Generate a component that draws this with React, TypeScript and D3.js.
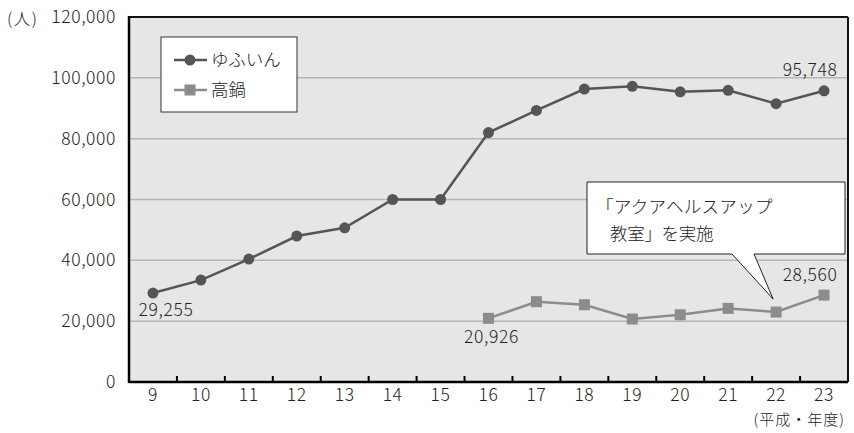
import React, { useEffect, useRef } from "react";
import * as d3 from "d3";

const years = ["9", "10", "11", "12", "13", "14", "15", "16", "17", "18", "19", "20", "21", "22", "23"];
const yufuin = [29255, 33500, 40400, 48000, 50700, 60000, 60000, 82000, 89300, 96300, 97200, 95400, 95900, 91500, 95748];
const takanabeYears = ["16", "17", "18", "19", "20", "21", "22", "23"];
const takanabe = [20926, 26400, 25400, 20700, 22100, 24200, 23000, 28560];
const yTicks = [0, 20000, 40000, 60000, 80000, 100000, 120000];

const FONT = "'Noto Sans CJK JP', 'Noto Sans', sans-serif";

export default function App() {
  const ref = useRef<SVGSVGElement>(null);

  useEffect(() => {
    const svg = d3.select(ref.current);
    svg.selectAll("*").remove();

    const left = 129, right = 848, top = 17, bottom = 382;
    const x = d3.scaleBand().domain(years).range([left, right]);
    const y = d3.scaleLinear().domain([0, 120000]).range([bottom, top]);
    const cx = (d: string) => (x(d) as number) + x.bandwidth() / 2;
    const fmt = d3.format(",");

    const txt = (t: string, tx: number, ty: number, size = 17.5, anchor = "start") =>
      svg.append("text").attr("x", tx).attr("y", ty).attr("text-anchor", anchor)
        .attr("font-family", FONT).attr("font-weight", 300).attr("font-size", size)
        .attr("letter-spacing", 0.6).attr("fill", "#222").text(t);

    // plot background
    svg.append("rect").attr("x", left).attr("y", top)
      .attr("width", right - left).attr("height", bottom - top).attr("fill", "#e6e6e6");

    // grid
    svg.selectAll(".grid").data(yTicks.slice(1, -1)).join("line")
      .attr("x1", left).attr("x2", right)
      .attr("y1", d => y(d)).attr("y2", d => y(d))
      .attr("stroke", "#b5b5b5").attr("stroke-width", 1.5);

    // frame
    svg.append("line").attr("x1", left).attr("x2", right).attr("y1", top).attr("y2", top)
      .attr("stroke", "#111").attr("stroke-width", 2);
    svg.append("line").attr("x1", right).attr("x2", right).attr("y1", top).attr("y2", bottom)
      .attr("stroke", "#111").attr("stroke-width", 2);
    svg.append("line").attr("x1", left).attr("x2", left).attr("y1", top - 1).attr("y2", bottom + 1)
      .attr("stroke", "#000").attr("stroke-width", 2.5);
    svg.append("line").attr("x1", left).attr("x2", right).attr("y1", bottom).attr("y2", bottom)
      .attr("stroke", "#000").attr("stroke-width", 2.5);

    // x ticks at band boundaries (pointing inward)
    svg.selectAll(".xtick").data(years.slice(1)).join("line")
      .attr("x1", d => x(d) as number).attr("x2", d => x(d) as number)
      .attr("y1", bottom).attr("y2", bottom - 6)
      .attr("stroke", "#000").attr("stroke-width", 2);

    // axis labels
    years.forEach(d => txt(d, cx(d), 401, 17.5, "middle"));
    yTicks.forEach(d => txt(fmt(d), 116, y(d) + 6, 17.5, "end"));

    txt("(人)", 7, 25, 16.5).attr("letter-spacing", 1.5);
    txt("(平成・年度)", 845, 425, 15, "end").attr("letter-spacing", 1);

    // yufuin line
    const line1 = d3.line<number>().x((_, i) => cx(years[i])).y(d => y(d));
    svg.append("path").attr("d", line1(yufuin)).attr("fill", "none")
      .attr("stroke", "#555").attr("stroke-width", 2.5);
    svg.selectAll(".c1").data(yufuin).join("circle")
      .attr("cx", (_, i) => cx(years[i])).attr("cy", d => y(d)).attr("r", 5.5).attr("fill", "#555");

    // takanabe line
    const line2 = d3.line<number>().x((_, i) => cx(takanabeYears[i])).y(d => y(d));
    svg.append("path").attr("d", line2(takanabe)).attr("fill", "none")
      .attr("stroke", "#8c8c8c").attr("stroke-width", 2.5);
    svg.selectAll(".s2").data(takanabe).join("rect")
      .attr("x", (_, i) => cx(takanabeYears[i]) - 5.5).attr("y", d => y(d) - 5.5)
      .attr("width", 11).attr("height", 11).attr("fill", "#8c8c8c");

    // data labels
    txt(fmt(yufuin[0]), cx("9") + 13, y(yufuin[0]) + 23, 17.5, "middle");
    txt(fmt(yufuin[yufuin.length - 1]), cx("23") - 14, y(yufuin[yufuin.length - 1]) - 15, 17.5, "middle");
    txt(fmt(takanabe[0]), cx("16") + 3, y(takanabe[0]) + 25, 17.5, "middle");
    txt(fmt(takanabe[takanabe.length - 1]), cx("23") - 14, y(takanabe[takanabe.length - 1]) - 14, 17.5, "middle");

    // legend
    svg.append("rect").attr("x", 161).attr("y", 37).attr("width", 136).attr("height", 75)
      .attr("fill", "#fff").attr("stroke", "#333").attr("stroke-width", 1);
    const lg = [
      { name: "ゆふいん", color: "#555", shape: "circle" },
      { name: "高鍋", color: "#8c8c8c", shape: "rect" },
    ];
    lg.forEach((e, i) => {
      const ly = 60 + i * 30;
      svg.append("line").attr("x1", 174).attr("x2", 207).attr("y1", ly).attr("y2", ly)
        .attr("stroke", e.color).attr("stroke-width", 2.5);
      if (e.shape === "circle") {
        svg.append("circle").attr("cx", 190).attr("cy", ly).attr("r", 5.5).attr("fill", e.color);
      } else {
        svg.append("rect").attr("x", 184.5).attr("y", ly - 5.5).attr("width", 11).attr("height", 11).attr("fill", e.color);
      }
      txt(e.name, 211, ly + 6, 17.5).attr("letter-spacing", 0);
    });

    // callout
    const tipX = cx("22") - 3, tipY = y(takanabe[6]) - 13;
    svg.append("path")
      .attr("d", `M587,182 H845 V254 H754 L${tipX},${tipY} L732,254 H587 Z`)
      .attr("fill", "#fff").attr("stroke", "#222").attr("stroke-width", 1);
    txt("「アクアヘルスアップ", 596, 213, 17.5).attr("letter-spacing", 0.3);
    txt("教室」を実施", 610, 240, 17.5).attr("letter-spacing", -0.3);
  }, []);

  return (
    <svg ref={ref} width={854} height={433}
      style={{ position: "absolute", left: 0, top: 0, background: "#fff" }} />
  );
}
